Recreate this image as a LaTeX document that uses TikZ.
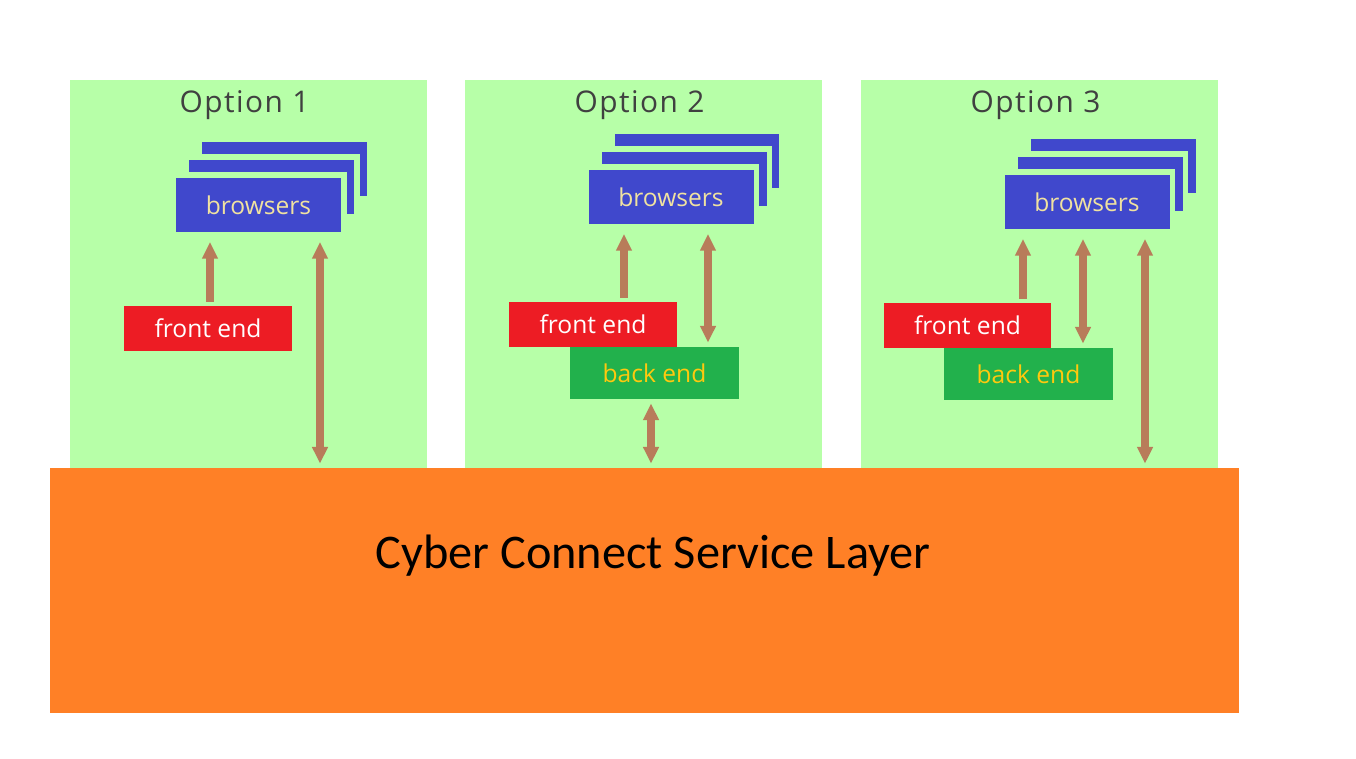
\documentclass[tikz,border=0pt]{standalone}
\usepackage{fontspec}
\setmainfont{Open Sans}
\newfontfamily\layerfont{Carlito}
\usetikzlibrary{arrows.meta,shadows}

\definecolor{panelgreen}{RGB}{183,255,168}
\definecolor{titlegrey}{RGB}{64,64,64}
\definecolor{browserblue}{RGB}{64,72,204}
\definecolor{browsertext}{RGB}{240,226,160}
\definecolor{frontred}{RGB}{237,28,36}
\definecolor{backgreen}{RGB}{34,177,76}
\definecolor{backtext}{RGB}{255,201,14}
\definecolor{layerorange}{RGB}{255,128,38}
\definecolor{arrowbrown}{RGB}{184,124,90}

\tikzset{
  panel/.style={fill=panelgreen, inner sep=0pt, minimum width=7.14cm, minimum height=7.76cm},
  title/.style={text=titlegrey, font=\fontsize{17}{20}\selectfont\addfontfeatures{LetterSpace=5}},
  browserbox/.style={fill=browserblue, draw=panelgreen, line width=3.4pt,
    minimum width=3.42cm, minimum height=1.2cm, text=browsertext,
    font=\fontsize{14}{16}\selectfont,
    double copy shadow={shadow xshift=0.26cm, shadow yshift=0.36cm}},
  frontbox/.style={fill=frontred, minimum width=3.36cm, minimum height=0.9cm,
    text=white, font=\fontsize{14}{16}\selectfont},
  backbox/.style={fill=backgreen, minimum width=3.38cm, minimum height=1.04cm,
    text=backtext, font=\fontsize{14}{16}\selectfont},
  arr/.style={draw=arrowbrown, line width=4pt, shorten >=0.08cm, shorten <=0.08cm,
    -{Triangle[width=8.5pt,length=9.5pt]}},
  dblarr/.style={arr, {Triangle[width=8.5pt,length=9.5pt]}-{Triangle[width=8.5pt,length=9.5pt]}},
}

\begin{document}
\begin{tikzpicture}[x=0.02cm, y=-0.02cm]
  \useasboundingbox[fill=white] (0,0) rectangle (1356,759);

  % the three option panels
  \node[panel] (p1) at (248.5,274) {};
  \node[panel] (p2) at (643.5,274) {};
  \node[panel] (p3) at (1039.5,274) {};
  \node[title] (t1) at ([xshift=-0.08cm,yshift=-0.5cm]p1.north) {Option 1};
  \node[title] (t2) at ([xshift=-0.08cm,yshift=-0.5cm]p2.north) {Option 2};
  \node[title] (t3) at ([xshift=-0.08cm,yshift=-0.5cm]p3.north) {Option 3};

  % service layer
  \node[fill=layerorange, inner sep=0pt, minimum width=23.78cm, minimum height=4.9cm] (layer) at (644.5,590.5) {};
  \node[font=\layerfont\fontsize{27.5}{30}\selectfont] (layertext) at (653,556) {Cyber Connect Service Layer};

  % option 1
  \node[browserbox] (br1) at (258.5,205) {browsers};
  \node[frontbox] (fe1) at (208,328.5) {front end};
  \draw[arr] (210,0 |- fe1.north) -- (210,0 |- br1.south);
  \draw[dblarr] (320,0 |- br1.south) -- (320,0 |- layer.north);

  % option 2
  \node[browserbox] (br2) at (671,197) {browsers};
  \node[frontbox] (fe2) at (593,324.5) {front end};
  \node[backbox] (be2) at (654.5,373) {back end};
  \draw[arr] (624,0 |- fe2.north) -- (624,0 |- br2.south);
  \draw[dblarr] (708,0 |- br2.south) -- (708,0 |- be2.north);
  \draw[dblarr] (651,0 |- be2.south) -- (651,0 |- layer.north);

  % option 3
  \node[browserbox] (br3) at (1087,202) {browsers};
  \node[frontbox] (fe3) at (967.5,325.5) {front end};
  \node[backbox] (be3) at (1028.5,374) {back end};
  \draw[arr] (1023,0 |- fe3.north) -- (1023,0 |- br3.south);
  \draw[dblarr] (1083,0 |- br3.south) -- (1083,0 |- be3.north);
  \draw[dblarr] (1145,0 |- br3.south) -- (1145,0 |- layer.north);
\end{tikzpicture}
\end{document}
